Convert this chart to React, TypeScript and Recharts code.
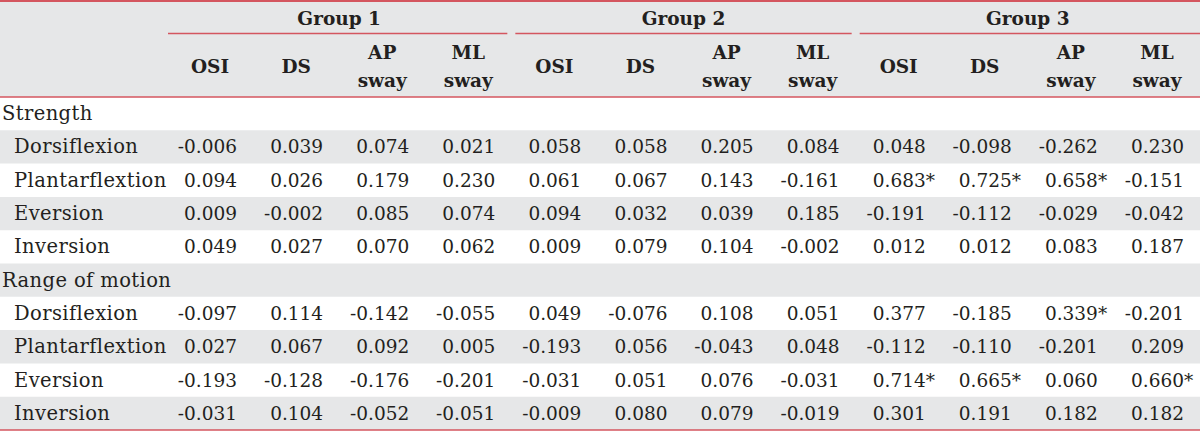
import {
  ScatterChart,
  Scatter,
  XAxis,
  YAxis,
  ReferenceArea,
  ReferenceLine
} from "recharts";

const GROUPS = ["Group 1", "Group 2", "Group 3"];
const MEASURES = ["OSI", "DS", "AP sway", "ML sway"];
const SECTIONS = ["Strength", "Range of motion"];
const MOTIONS = ["Dorsiflexion", "Plantarflextion", "Eversion", "Inversion"];

// one row per motion, 12 values: Group 1..3 x OSI, DS, AP sway, ML sway
const STRENGTH = [
  ["-0.006", "0.039", "0.074", "0.021", "0.058", "0.058", "0.205", "0.084", "0.048", "-0.098", "-0.262", "0.230"],
  ["0.094", "0.026", "0.179", "0.230", "0.061", "0.067", "0.143", "-0.161", "0.683*", "0.725*", "0.658*", "-0.151"],
  ["0.009", "-0.002", "0.085", "0.074", "0.094", "0.032", "0.039", "0.185", "-0.191", "-0.112", "-0.029", "-0.042"],
  ["0.049", "0.027", "0.070", "0.062", "0.009", "0.079", "0.104", "-0.002", "0.012", "0.012", "0.083", "0.187"]
];

const RANGE_OF_MOTION = [
  ["-0.097", "0.114", "-0.142", "-0.055", "0.049", "-0.076", "0.108", "0.051", "0.377", "-0.185", "0.339*", "-0.201"],
  ["0.027", "0.067", "0.092", "0.005", "-0.193", "0.056", "-0.043", "0.048", "-0.112", "-0.110", "-0.201", "0.209"],
  ["-0.193", "-0.128", "-0.176", "-0.201", "-0.031", "0.051", "0.076", "-0.031", "0.714*", "0.665*", "0.060", "0.660*"],
  ["-0.031", "0.104", "-0.052", "-0.051", "-0.009", "0.080", "0.079", "-0.019", "0.301", "0.191", "0.182", "0.182"]
];

const RED = "#d4565f";
const GRAY = "#e6e7e8";
const INK = "#231f20";
const FONT = "'DejaVu Serif', serif";
const FONT_SIZE = 18.5;

const WIDTH = 1200;
const LABEL_COLS = 1.94; // width of the label column, in value-column units
const BAND = WIDTH / (MEASURES.length * GROUPS.length + LABEL_COLS);

// rows: section header followed by its four motions
const rows = [
  { label: SECTIONS[0], section: true, values: null as string[] | null },
  ...MOTIONS.map((m, i) => ({ label: m, section: false, values: STRENGTH[i] })),
  { label: SECTIONS[1], section: true, values: null as string[] | null },
  ...MOTIONS.map((m, i) => ({ label: m, section: false, values: RANGE_OF_MOTION[i] }))
];

const columns = GROUPS.flatMap(() => MEASURES);
const colTicks = columns.map((_, i) => i);
const rowTicks = rows.map((_, i) => i);

const cells = rows.flatMap((r, y) =>
  r.values ? r.values.map((text, x) => ({ x, y, text })) : []
);

const textStyle = { fontFamily: FONT, fontSize: FONT_SIZE, fill: INK };
const boldStyle = { ...textStyle, fontWeight: "bold" as const };
const labelStyle = { ...textStyle, fontSize: 19.5, letterSpacing: 0.4 };

function ColumnTick({ x, y, payload }: any) {
  const i = payload.value;
  const lines = columns[i].split(" ");
  const n = MEASURES.length;
  const g = Math.floor(i / n);
  let group = null;
  if (i % n === 0) {
    // group title sits over the middle of its four columns
    const mid = x + ((n - 1) / 2) * BAND;
    const left = x - BAND / 2 + (g === 0 ? 1 : 4);
    const right = x + (n - 0.5) * BAND - (g === GROUPS.length - 1 ? 0 : 4);
    group = (
      <g>
        <text x={mid} y={y - 79} textAnchor="middle" dominantBaseline="central" style={boldStyle}>
          {GROUPS[g]}
        </text>
        <line x1={left} x2={right} y1={y - 63.5} y2={y - 63.5} stroke={RED} strokeWidth={1.5} />
      </g>
    );
  }
  return (
    <g>
      {group}
      {lines.length === 1 ? (
        <text x={x} y={y - 31} textAnchor="middle" dominantBaseline="central" style={boldStyle}>
          {lines[0]}
        </text>
      ) : (
        <>
          <text x={x} y={y - 45} textAnchor="middle" dominantBaseline="central" style={boldStyle}>
            {lines[0]}
          </text>
          <text x={x} y={y - 17} textAnchor="middle" dominantBaseline="central" style={boldStyle}>
            {lines[1]}
          </text>
        </>
      )}
    </g>
  );
}

function RowTick({ x, y, payload }: any) {
  const row = rows[payload.value];
  return (
    <text x={x + (row.section ? 2 : 14)} y={y} textAnchor="start" dominantBaseline="central" style={labelStyle}>
      {row.label}
    </text>
  );
}

function Cell(props: any) {
  const { cx, cy, payload } = props;
  const star = payload.text.endsWith("*");
  const num = star ? payload.text.slice(0, -1) : payload.text;
  return (
    <g>
      <text x={cx + 27} y={cy} textAnchor="end" dominantBaseline="central" style={textStyle}>
        {num}
      </text>
      {star && (
        <text x={cx + 27} y={cy} textAnchor="start" dominantBaseline="central" style={textStyle}>
          *
        </text>
      )}
    </g>
  );
}

function App() {
  return (
    <>
      <style>{"body{margin:0}"}</style>
      <div
        style={{
          width: WIDTH,
          height: 430,
          borderTop: `2px solid ${RED}`,
          background: `linear-gradient(${GRAY} 0 95px, #fff 95px)`,
          fontFamily: FONT
        }}
      >
        <ScatterChart width={WIDTH} height={430} margin={{ top: 0, right: 0, bottom: 2, left: 0 }}>
          <XAxis
            xAxisId="col"
            type="number"
            dataKey="x"
            orientation="top"
            height={95}
            domain={[-0.5 - LABEL_COLS, columns.length - 0.5]}
            ticks={colTicks}
            interval={0}
            axisLine={false}
            tickLine={false}
            tickSize={0}
            tickMargin={0}
            tick={(p: any) => <ColumnTick {...p} />}
          />
          <YAxis
            type="number"
            dataKey="y"
            mirror
            width={170}
            reversed
            domain={[-0.5, rows.length - 0.5]}
            ticks={rowTicks}
            interval={0}
            axisLine={false}
            tickLine={false}
            tickSize={0}
            tickMargin={0}
            tick={(p: any) => <RowTick {...p} />}
          />
          {rows.map((_, i) =>
            i % 2 === 1 ? (
              <ReferenceArea
                key={i}
                xAxisId="col"
                y1={i - 0.5}
                y2={i + 0.5}
                fill={GRAY}
                fillOpacity={1}
                stroke="none"
              />
            ) : null
          )}
          <ReferenceLine xAxisId="col" y={-0.5} stroke={RED} strokeWidth={1.5} />
          <ReferenceLine xAxisId="col" y={rows.length - 0.5} stroke={RED} strokeWidth={1.5} />
          <Scatter
            xAxisId="col"
            data={cells}
            shape={(p: any) => <Cell {...p} />}
            isAnimationActive={false}
          />
        </ScatterChart>
      </div>
    </>
  );
}

export default App;
